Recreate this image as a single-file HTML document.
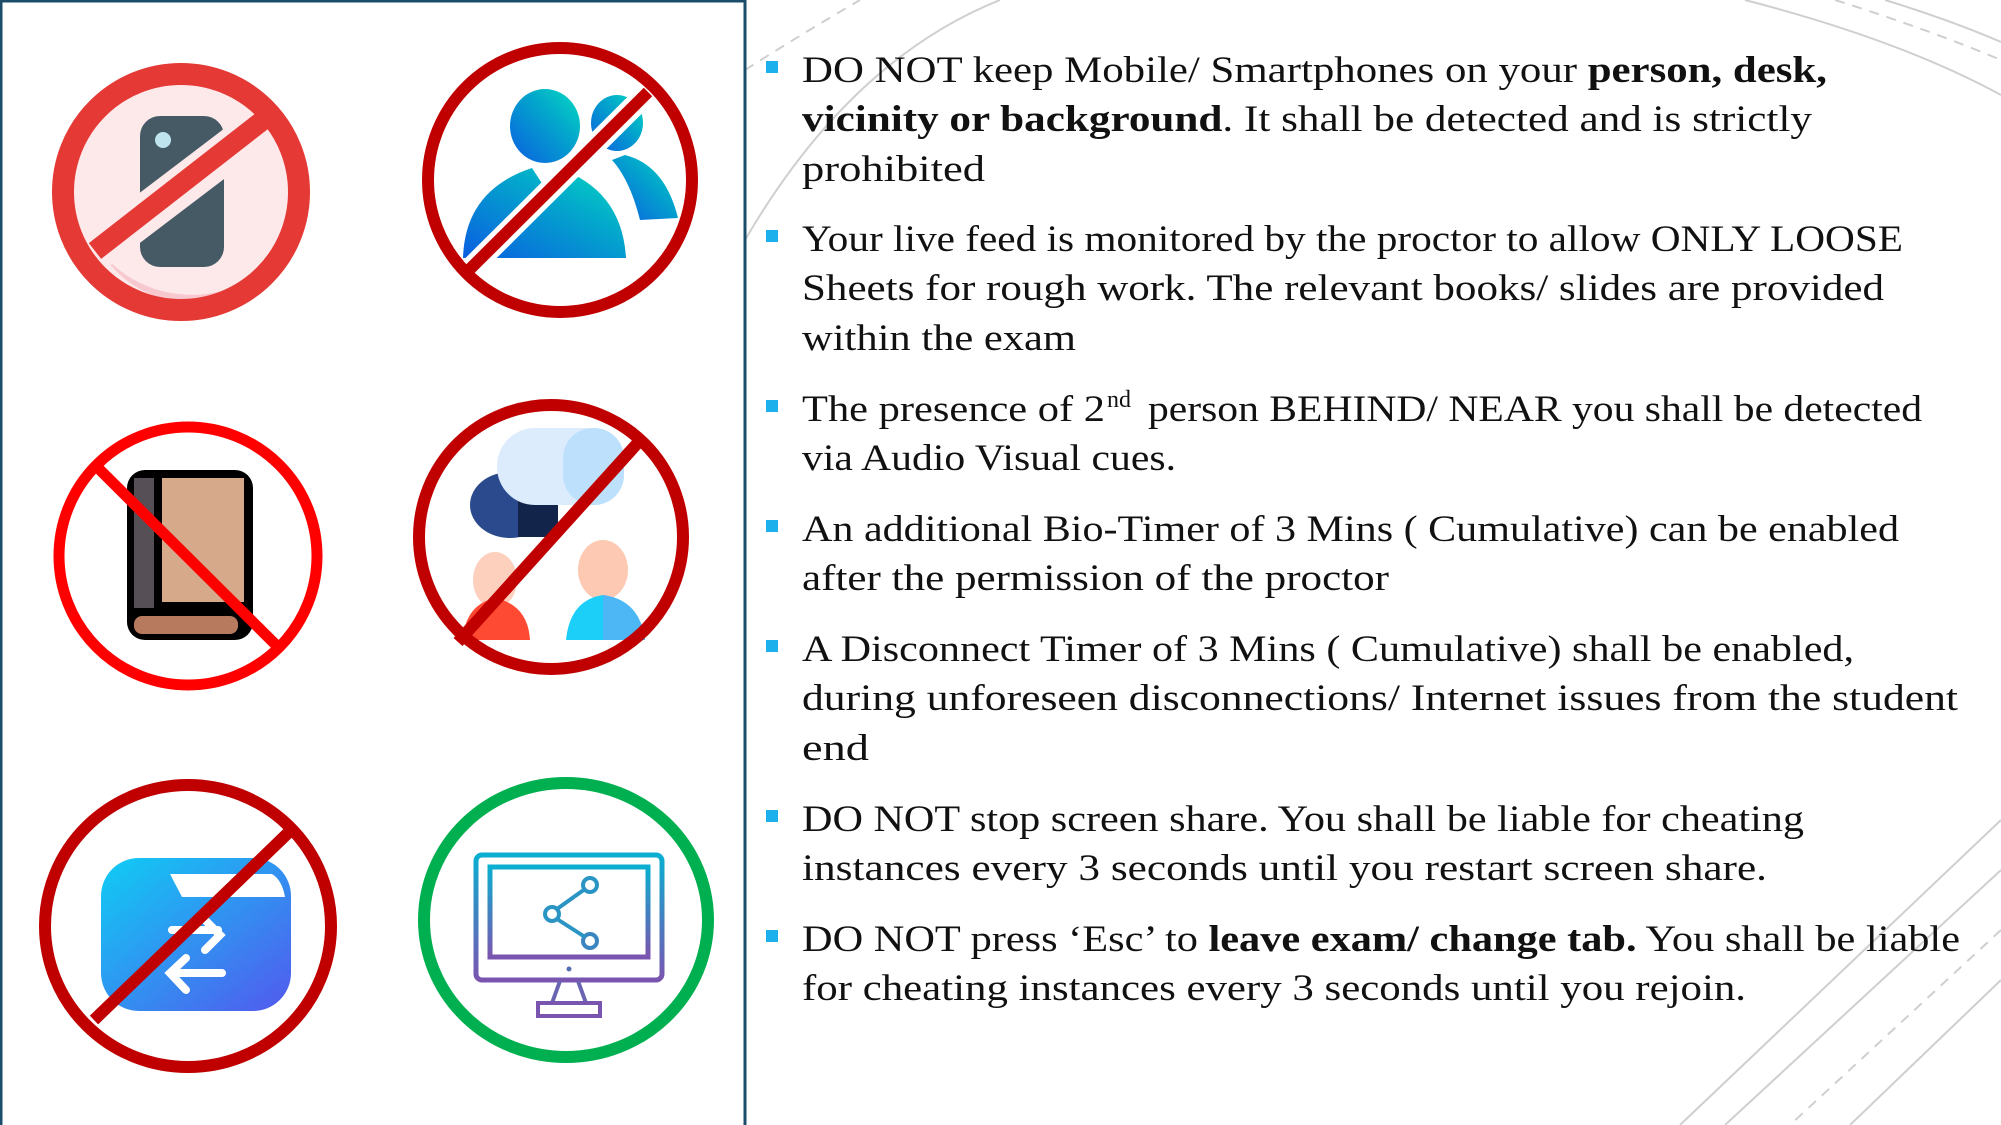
<!DOCTYPE html>
<html><head><meta charset="utf-8"><style>
html,body{margin:0;padding:0;background:#fff;}
body{width:2001px;height:1125px;position:relative;overflow:hidden;font-family:"Liberation Serif",serif;}
svg{position:absolute;left:0;top:0;}
</style></head><body>
<svg width="2001" height="1125" viewBox="0 0 2001 1125">
<defs>
<linearGradient id="gp" x1="0" y1="1" x2="1" y2="0"><stop offset="0" stop-color="#0a5ee0"/><stop offset="0.6" stop-color="#03a6cc"/><stop offset="1" stop-color="#05dcc0"/></linearGradient>
<linearGradient id="gf" x1="0" y1="0" x2="1" y2="1"><stop offset="0" stop-color="#0fcdf4"/><stop offset="1" stop-color="#5259ee"/></linearGradient>
<linearGradient id="gm" x1="0" y1="0" x2="0" y2="1"><stop offset="0" stop-color="#0aaed0"/><stop offset="1" stop-color="#7a55b0"/></linearGradient>
</defs>
<g fill="none" stroke="#cfcfcf" stroke-width="2">
<path d="M745 240 Q 850 60 1000 0"/>
<path d="M745 70 Q 800 35 860 0" stroke-dasharray="10 8"/>
<path d="M1745 0 Q 1900 40 2001 95"/>
<path d="M1835 0 Q 1930 30 2001 60" stroke-dasharray="10 8"/>
<path d="M1885 0 Q 1950 20 2001 42"/>
<path d="M2001 820 L1680 1125"/>
<path d="M2001 870 L1725 1125"/>
<path d="M2001 930 L1790 1125" stroke-dasharray="10 8"/>
<path d="M2001 980 L1850 1125"/>
</g>
<rect x="1" y="1" width="744" height="1130" fill="#fff" stroke="#1b4d6b" stroke-width="3"/>

<g>
<circle cx="181" cy="192" r="118" fill="#fde8ea"/>
<path d="M100 250 A105 105 0 0 0 275 260 A110 100 0 0 1 100 250Z" fill="#f8c8cf"/>
<rect x="140" y="116" width="84" height="151" rx="20" fill="#455a64"/>
<circle cx="163" cy="140" r="8" fill="#bfe4ee"/>
<line x1="262" y1="125" x2="95" y2="252" stroke="#fde8ea" stroke-width="40"/>
<line x1="262" y1="121" x2="95" y2="251" stroke="#e53935" stroke-width="20"/>
<circle cx="181" cy="192" r="118" fill="none" stroke="#e53935" stroke-width="22"/>
</g>

<g>
<ellipse cx="545" cy="126" rx="35" ry="37" fill="url(#gp)"/>
<ellipse cx="617" cy="123" rx="26" ry="28" fill="url(#gp)"/>
<path d="M625 155 Q665 165 678 218 L640 220 Q630 180 612 160Z" fill="url(#gp)"/>
<path d="M463 258 Q465 190 532 168 L545 188 L558 168 Q622 190 626 258Z" fill="url(#gp)"/>
<line x1="648" y1="92" x2="468" y2="271" stroke="#fff" stroke-width="22"/>
<line x1="648" y1="92" x2="468" y2="271" stroke="#c00000" stroke-width="12"/>
<circle cx="560" cy="180" r="132" fill="none" stroke="#c00000" stroke-width="12"/>
</g>

<g>
<rect x="127" y="470" width="126" height="170" rx="18" fill="#000"/>
<rect x="134" y="478" width="20" height="130" fill="#574f56"/>
<rect x="162" y="478" width="82" height="124" fill="#d6a98a"/>
<rect x="134" y="616" width="104" height="18" rx="8" fill="#b77a5f"/>
<line x1="93" y1="463" x2="279" y2="648" stroke="#ff0000" stroke-width="11"/>
<circle cx="188" cy="556" r="129" fill="none" stroke="#ff0000" stroke-width="11"/>
</g>

<g>
<ellipse cx="510" cy="505" rx="40" ry="33" fill="#2b4a8d"/>
<rect x="518" y="485" width="40" height="52" fill="#13244a"/>
<rect x="497" y="428" width="127" height="77" rx="38" fill="#dcecfd"/>
<rect x="563" y="428" width="61" height="77" rx="30" fill="#bde0fc"/>
<ellipse cx="495" cy="580" rx="22" ry="28" fill="#fdcfbd"/>
<path d="M463 640 Q465 605 495 598 Q528 605 530 640Z" fill="#ff4a33"/>
<ellipse cx="603" cy="570" rx="25" ry="30" fill="#fdc9b2"/>
<path d="M566 640 Q570 600 603 595 Q640 600 645 640Z" fill="#1ccff8"/>
<path d="M603 595 Q640 600 645 640 L603 640Z" fill="#4cb7f4"/>
<line x1="644" y1="436" x2="458" y2="642" stroke="#c00000" stroke-width="12"/>
<circle cx="551" cy="537" r="132" fill="none" stroke="#c00000" stroke-width="12"/>
</g>

<g>
<rect x="101" y="858" width="190" height="153" rx="38" fill="url(#gf)"/>
<path d="M170 874 L272 874 Q282 880 285 897 L182 897Z" fill="#fff"/>
<path d="M172 930 L218 930 M205 920 L220 935 L205 950" stroke="#fff" stroke-width="8" fill="none" stroke-linecap="round"/>
<path d="M222 973 L172 973 M186 958 L170 973 L186 990" stroke="#fff" stroke-width="8" fill="none" stroke-linecap="round"/>
<line x1="288" y1="833" x2="94" y2="1020" stroke="#fff" stroke-width="8"/>
<line x1="288" y1="833" x2="94" y2="1020" stroke="#c00000" stroke-width="12"/>
<ellipse cx="188" cy="926" rx="143" ry="141" fill="none" stroke="#c00000" stroke-width="12"/>
</g>

<g>
<rect x="476" y="855" width="186" height="125" rx="6" fill="none" stroke="url(#gm)" stroke-width="5"/>
<rect x="490" y="867" width="158" height="90" fill="none" stroke="url(#gm)" stroke-width="5"/>
<circle cx="590" cy="885" r="7" fill="none" stroke="#2a95c4" stroke-width="4"/>
<circle cx="552" cy="914" r="7" fill="none" stroke="#2a95c4" stroke-width="4"/>
<circle cx="590" cy="941" r="7" fill="none" stroke="#3a85c0" stroke-width="4"/>
<path d="M585 889 L557 909 M557 919 L585 937" stroke="#2a95c4" stroke-width="4"/>
<circle cx="569" cy="969" r="2.5" fill="#5570b0"/>
<path d="M560 981 L552 1003 M578 981 L586 1003" stroke="#6a65b3" stroke-width="4" fill="none"/>
<rect x="538" y="1003" width="62" height="13" fill="none" stroke="#7a55b0" stroke-width="4"/>
<ellipse cx="566" cy="920" rx="142" ry="137" fill="none" stroke="#00b050" stroke-width="12"/>
</g>

<g font-family="'Liberation Serif', serif" font-size="37" fill="#111">
<g fill="#1cb1ec">
<rect x="766" y="61" width="12" height="12"/>
<rect x="766" y="230" width="12" height="12"/>
<rect x="766" y="400" width="12" height="12"/>
<rect x="766" y="520" width="12" height="12"/>
<rect x="766" y="640" width="12" height="12"/>
<rect x="766" y="810" width="12" height="12"/>
<rect x="766" y="930" width="12" height="12"/>
</g>
<text>
<tspan x="802" y="82" textLength="1025" lengthAdjust="spacingAndGlyphs">DO NOT keep Mobile/ Smartphones on your <tspan font-weight="bold">person, desk,</tspan></tspan>
<tspan x="802" y="131" textLength="1010" lengthAdjust="spacingAndGlyphs"><tspan font-weight="bold">vicinity or background</tspan>. It shall be detected and is strictly</tspan>
<tspan x="802" y="181" textLength="183" lengthAdjust="spacingAndGlyphs">prohibited</tspan>
</text>
<text>
<tspan x="802" y="251" textLength="1101" lengthAdjust="spacingAndGlyphs">Your live feed is monitored by the proctor to allow ONLY LOOSE</tspan>
<tspan x="802" y="300" textLength="1082" lengthAdjust="spacingAndGlyphs">Sheets for rough work. The relevant books/ slides are provided</tspan>
<tspan x="802" y="350" textLength="274" lengthAdjust="spacingAndGlyphs">within the exam</tspan>
</text>
<text><tspan x="802" y="421" textLength="303" lengthAdjust="spacingAndGlyphs">The presence of 2</tspan><tspan x="1107" y="407" font-size="24">nd</tspan><tspan x="1148" y="421" textLength="774" lengthAdjust="spacingAndGlyphs">person BEHIND/ NEAR you shall be detected</tspan></text>
<text><tspan x="802" y="470" textLength="374" lengthAdjust="spacingAndGlyphs">via Audio Visual cues.</tspan></text>
<text>
<tspan x="802" y="541" textLength="1097" lengthAdjust="spacingAndGlyphs">An additional Bio-Timer of 3 Mins ( Cumulative) can be enabled</tspan>
<tspan x="802" y="590" textLength="587" lengthAdjust="spacingAndGlyphs">after the permission of the proctor</tspan>
</text>
<text>
<tspan x="802" y="661" textLength="1052" lengthAdjust="spacingAndGlyphs">A Disconnect Timer of 3 Mins ( Cumulative) shall be enabled,</tspan>
<tspan x="802" y="710" textLength="1156" lengthAdjust="spacingAndGlyphs">during unforeseen disconnections/ Internet issues from the student</tspan>
<tspan x="802" y="760" textLength="67" lengthAdjust="spacingAndGlyphs">end</tspan>
</text>
<text>
<tspan x="802" y="831" textLength="1002" lengthAdjust="spacingAndGlyphs">DO NOT stop screen share. You shall be liable for cheating</tspan>
<tspan x="802" y="880" textLength="965" lengthAdjust="spacingAndGlyphs">instances every 3 seconds until you restart screen share.</tspan>
</text>
<text>
<tspan x="802" y="951" textLength="1158" lengthAdjust="spacingAndGlyphs">DO NOT press ‘Esc’ to <tspan font-weight="bold">leave exam/ change tab.</tspan> You shall be liable</tspan>
<tspan x="802" y="1000" textLength="944" lengthAdjust="spacingAndGlyphs">for cheating instances every 3 seconds until you rejoin.</tspan>
</text>
</g>
</svg>
</body></html>
